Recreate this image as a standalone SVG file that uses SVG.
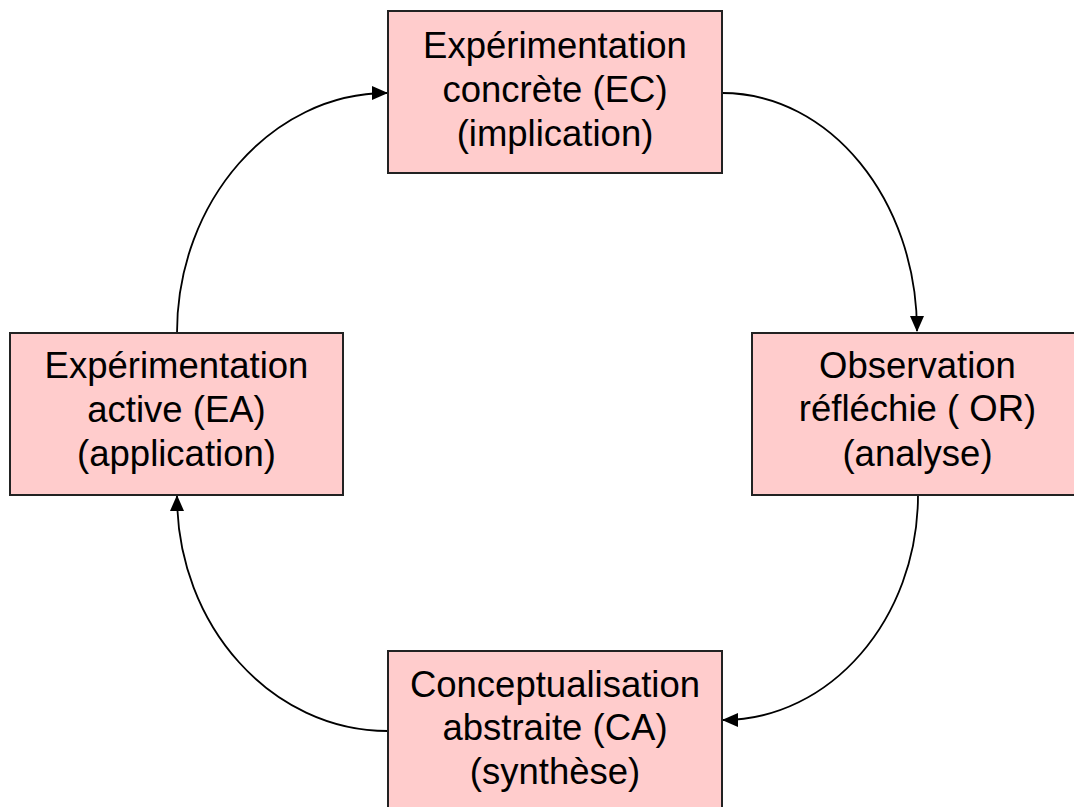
<svg xmlns="http://www.w3.org/2000/svg" width="1074" height="807" viewBox="0 0 1074 807">
<style>
.box{fill:#FFCCCC;stroke:#222;stroke-width:2}
.t{font-family:"Liberation Sans",Arial,sans-serif;font-size:36.5px;fill:#000;text-anchor:middle}
.c{fill:none;stroke:#000;stroke-width:1.8}
</style>
<defs>
<marker id="ah" markerUnits="userSpaceOnUse" markerWidth="16" markerHeight="14" refX="15" refY="7" orient="auto">
<path d="M0,0 L16,7 L0,14 z" fill="#000"/>
</marker>
</defs>
<rect width="1074" height="807" fill="#fff"/>
<g id="connectors">
<path class="c" d="M722,93 C830,93 917,200 917,331" marker-end="url(#ah)"/>
<path class="c" d="M918,495 C918,619 830,720 723,720" marker-end="url(#ah)"/>
<path class="c" d="M388,731 C272,731 177,626 177,496" marker-end="url(#ah)"/>
<path class="c" d="M177,333 C177,201 272,93 387,93" marker-end="url(#ah)"/>
</g>
<g id="ec">
<rect class="box" x="388" y="11" width="334" height="162"/>
<text class="t" x="555" y="58">Expérimentation</text>
<text class="t" x="555" y="102">concrète (EC)</text>
<text class="t" x="555" y="146">(implication)</text>
</g>
<g id="or">
<rect class="box" x="752" y="333" width="331" height="162"/>
<text class="t" x="917.5" y="378">Observation</text>
<text class="t" x="917.5" y="421">réfléchie ( OR)</text>
<text class="t" x="917.5" y="466">(analyse)</text>
</g>
<g id="ca">
<rect class="box" x="388" y="651" width="334" height="170"/>
<text class="t" x="555" y="697">Conceptualisation</text>
<text class="t" x="555" y="740">abstraite (CA)</text>
<text class="t" x="555" y="784">(synthèse)</text>
</g>
<g id="ea">
<rect class="box" x="10" y="333" width="333" height="162"/>
<text class="t" x="176.5" y="378">Expérimentation</text>
<text class="t" x="176.5" y="422">active (EA)</text>
<text class="t" x="176.5" y="466">(application)</text>
</g>
</svg>
